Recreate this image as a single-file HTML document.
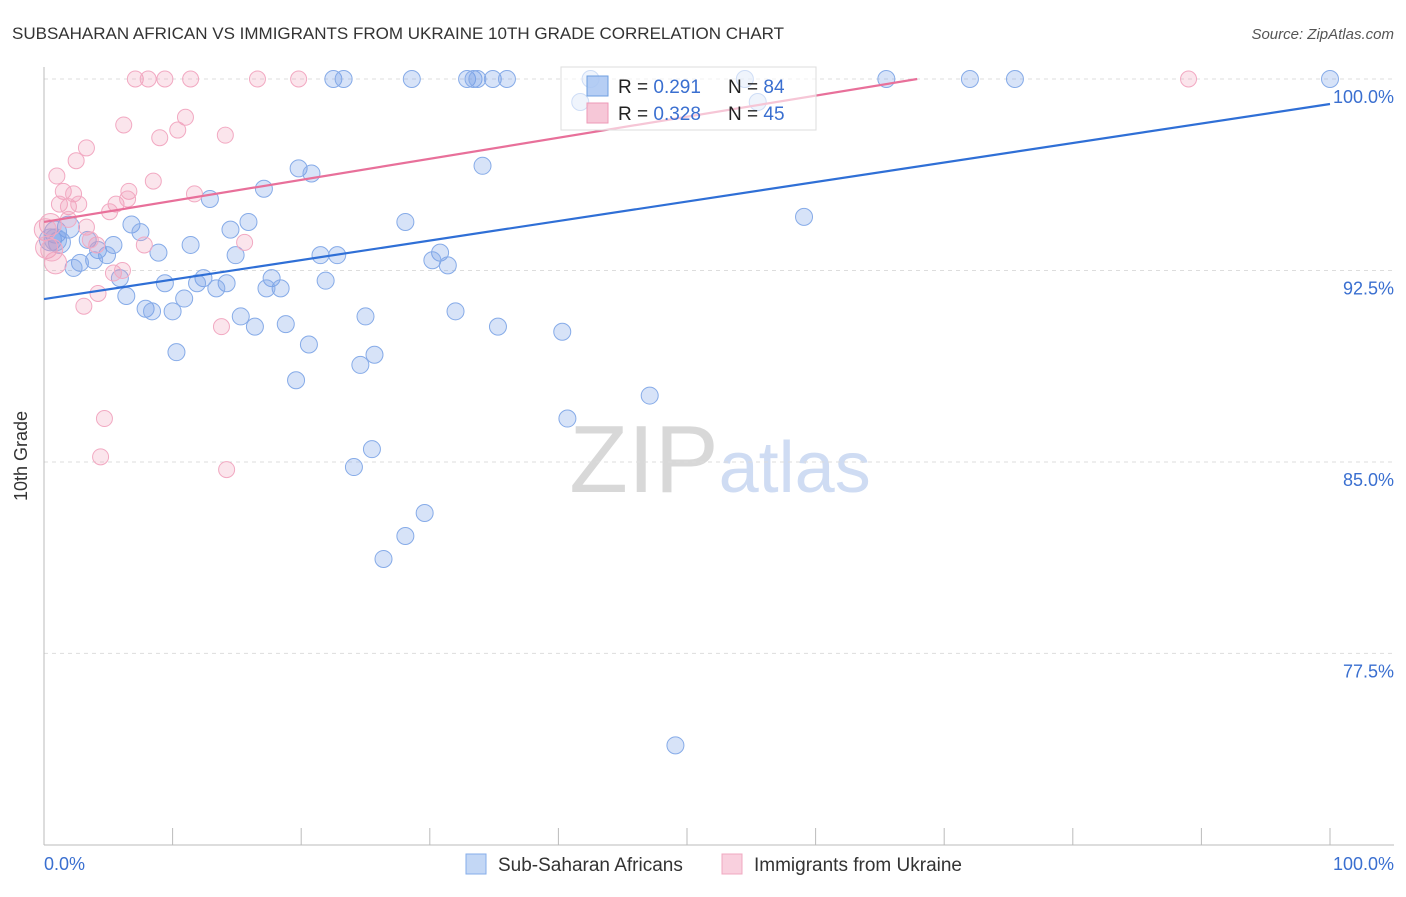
<!DOCTYPE html>
<html><head><meta charset="utf-8"><style>
body{margin:0;background:#fff;font-family:"Liberation Sans",sans-serif;}
svg text{font-family:"Liberation Sans",sans-serif;}
</style></head><body>
<svg id="chart" width="1406" height="892">
<text x="12" y="39" font-size="17" fill="#333">SUBSAHARAN AFRICAN VS IMMIGRANTS FROM UKRAINE 10TH GRADE CORRELATION CHART</text>
<text x="1394" y="39" font-size="15" fill="#555" font-style="italic" text-anchor="end">Source: ZipAtlas.com</text>
<text x="720" y="492" font-size="96" fill="#ddd" text-anchor="middle" font-family="Liberation Serif"><tspan fill="#d8d8d8">ZIP</tspan><tspan fill="#cfdcf3" font-family="Liberation Sans" font-size="72">atlas</tspan></text>
<g id="grid"></g><g id="axes"></g><g id="pts"></g><g id="trend"></g>
<g>
<rect x="561" y="67" width="255" height="63" fill="#fff" fill-opacity="0.6" stroke="#ddd"/>
<rect x="587" y="76" width="21" height="20" fill="#a9c6f2" fill-opacity="0.85" stroke="#6f9fe0"/>
<rect x="587" y="103" width="21" height="20" fill="#f5bdd0" fill-opacity="0.85" stroke="#ee9ab7"/>
<text x="618" y="93" font-size="19" fill="#222">R = <tspan fill="#3a6fd0">0.291</tspan></text>
<text x="728" y="93" font-size="19" fill="#222">N = <tspan fill="#3a6fd0">84</tspan></text>
<text x="618" y="120" font-size="19" fill="#222">R = <tspan fill="#3a6fd0">0.328</tspan></text>
<text x="728" y="120" font-size="19" fill="#222">N = <tspan fill="#3a6fd0">45</tspan></text>
</g>
<g>
<rect x="466" y="854" width="20" height="20" fill="#c3d7f5" stroke="#86adea"/>
<text x="498" y="871" font-size="19" fill="#333">Sub-Saharan Africans</text>
<rect x="722" y="854" width="20" height="20" fill="#f9d0de" stroke="#f0a8c0"/>
<text x="754" y="871" font-size="19" fill="#333">Immigrants from Ukraine</text>
</g>
<text x="27" y="456" font-size="18" fill="#333" transform="rotate(-90 27 456)" text-anchor="middle">10th Grade</text>
<text x="44" y="870" font-size="18" fill="#3a6fd0">0.0%</text>
<text x="1394" y="870" font-size="18" fill="#3a6fd0" text-anchor="end">100.0%</text>
</svg>
<script>
const yTicks=[100,92.5,85,77.5];
const yTickLabels=["100.0%","92.5%","85.0%","77.5%"];
const blueX=[22.5,23.3,28.6,32.9,33.4,33.7,34.9,36.0,65.5,72.0,75.5,100,42.5,54.5,41.7,55.5,19.8,20.8,34.1,17.1,12.9,28.1,59.1,15.9,6.8,14.5,7.5,1.9,0.9,0.5,1.2,3.4,5.4,4.2,11.4,8.9,4.9,3.9,2.8,2.3,14.9,21.5,22.8,30.8,30.2,31.4,5.9,9.4,12.4,11.9,14.2,13.4,17.7,18.4,17.3,21.9,6.4,10.9,7.9,8.4,10.0,15.3,16.4,18.8,25.0,32.0,35.3,40.3,20.6,10.3,25.7,24.6,19.6,47.1,40.7,25.5,24.1,29.6,28.1,26.4,49.1,0.9];
const blueY=[100,100,100,100,100,100,100,100,100,100,100,100,100,100,99.1,99.1,96.5,96.3,96.6,95.7,95.3,94.4,94.6,94.4,94.3,94.1,94.0,94.2,94.0,93.7,93.6,93.7,93.5,93.3,93.5,93.2,93.1,92.9,92.8,92.6,93.1,93.1,93.1,93.2,92.9,92.7,92.2,92.0,92.2,92.0,92.0,91.8,92.2,91.8,91.8,92.1,91.5,91.4,91.0,90.9,90.9,90.7,90.3,90.4,90.7,90.9,90.3,90.1,89.6,89.3,89.2,88.8,88.2,87.6,86.7,85.5,84.8,83.0,82.1,81.2,73.9,93.7];
const pinkX=[7.1,8.1,9.4,11.4,16.6,19.8,89.0,6.2,11.0,10.4,9.0,14.1,3.3,2.5,1.0,8.5,1.5,2.3,6.6,11.7,1.2,1.9,2.7,5.6,6.5,5.1,1.9,3.3,0.5,0.1,0.2,4.1,7.8,15.6,0.9,5.4,6.1,4.2,3.1,13.8,4.7,4.4,14.2,0.6,3.6];
const pinkY=[100,100,100,100,100,100,100,98.2,98.5,98.0,97.7,97.8,97.3,96.8,96.2,96.0,95.6,95.5,95.6,95.5,95.1,95.0,95.1,95.1,95.3,94.8,94.5,94.2,94.3,94.1,93.4,93.5,93.5,93.6,92.8,92.4,92.5,91.6,91.1,90.3,86.7,85.2,84.7,93.3,93.7];
const blueTrend=[91.38,99.02];
const pinkTrend=[94.40,100];
const pinkTrendEndX=67.9;
const NS="http://www.w3.org/2000/svg";
const X=v=>44+v*12.86, Y=v=>79+(100-v)*25.53;
function mk(t,a,p){const e=document.createElementNS(NS,t);for(const k in a)e.setAttribute(k,a[k]);p.appendChild(e);return e;}
const grid=document.getElementById('grid'),axes=document.getElementById('axes'),pts=document.getElementById('pts'),tr=document.getElementById('trend');
yTicks.forEach((v,i)=>{
 const l=mk('line',{x1:44,x2:1394,y1:Y(v),y2:Y(v),stroke:'#ddd','stroke-dasharray':'4,4'},grid);
 
 
 const t=mk('text',{x:1394,y:Y(v)+24,'font-size':18,fill:'#3a6fd0','text-anchor':'end'},grid);
 t.textContent=yTickLabels[i];
 
 
});
const ax=mk('line',{x1:44,x2:1394,y1:845,y2:845,stroke:'#bbb'},axes);


const ay=mk('line',{x1:44,x2:44,y1:67,y2:845,stroke:'#bbb'},axes);


for(let i=0;i<=10;i++){const t=mk('line',{x1:X(i*10),x2:X(i*10),y1:828,y2:845,stroke:'#bbb'},axes);
 
 }
blueX.forEach((x,i)=>{const c=mk('circle',{cx:X(x),cy:Y(blueY[i]),r:(x<2?11:8.5),fill:'rgba(110,155,230,0.28)',stroke:'#86abe8','stroke-width':1},pts);
 
 });
pinkX.forEach((x,i)=>{const c=mk('circle',{cx:X(x),cy:Y(pinkY[i]),r:(x<1?11:8),fill:'rgba(240,150,180,0.25)',stroke:'#f2a9c2','stroke-width':1},pts);
 
 });
const bl=mk('line',{x1:X(0),y1:Y(blueTrend[0]),x2:X(100),y2:Y(blueTrend[1]),stroke:'#2f6fd6','stroke-width':2.2},tr);


const pl=mk('line',{x1:X(0),y1:Y(pinkTrend[0]),x2:X(pinkTrendEndX),y2:Y(pinkTrend[1]),stroke:'#e8709a','stroke-width':2.2},tr);


</script>
</body></html>
